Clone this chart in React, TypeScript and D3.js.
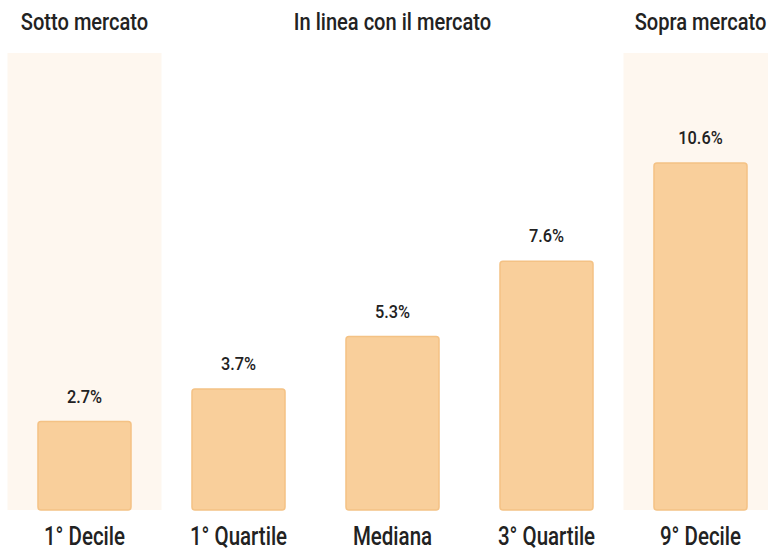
import React from "react";
import * as d3 from "d3";

const categories = ["1° Decile", "1° Quartile", "Mediana", "3° Quartile", "9° Decile"];
const values = [2.7, 3.7, 5.3, 7.6, 10.6];
const valueLabels = ["2.7%", "3.7%", "5.3%", "7.6%", "10.6%"];
const groupHeaders = [
  { label: "Sotto mercato", at: "1° Decile", shaded: true },
  { label: "In linea con il mercato", at: "Mediana", shaded: false },
  { label: "Sopra mercato", at: "9° Decile", shaded: true },
];

const W = 768;
const H = 551;

function SText(props: { x: number; y: number; size: number; sx: number; children: React.ReactNode }) {
  return (
    <text
      transform={`translate(${props.x},${props.y}) scale(${props.sx},1)`}
      textAnchor="middle"
      fontFamily="Roboto, 'Noto Sans', sans-serif"
      fontWeight={500}
      fontSize={props.size}
      fill="#222"
    >
      {props.children}
    </text>
  );
}

export default function App() {
  const x = d3
    .scaleBand<string>()
    .domain(categories)
    .range([7.5, 777.5])
    .paddingInner(0.396)
    .paddingOuter(0.198);
  const y = d3.scaleLinear().domain([0, 10.6]).range([510, 163]);
  const step = x.step();

  return (
    <div style={{ position: "absolute", left: 0, top: 0 }}>
      <svg width={W} height={H} style={{ display: "block" }}>
        <rect x={0} y={0} width={W} height={H} fill="#ffffff" />
        {groupHeaders.map((g) => {
          const cx = (x(g.at) as number) + x.bandwidth() / 2;
          return (
            <g key={g.label}>
              {g.shaded && (
                <rect
                  x={cx - step / 2}
                  y={53}
                  width={step}
                  height={y(0) - 53}
                  fill="#fef7ef"
                />
              )}
              <SText x={cx} y={30} size={24.5} sx={0.82}>
                {g.label}
              </SText>
            </g>
          );
        })}
        {categories.map((c, i) => {
          const bx = x(c) as number;
          const top = y(values[i]);
          const cx = bx + x.bandwidth() / 2;
          return (
            <g key={c}>
              <rect
                x={bx}
                y={top}
                width={x.bandwidth()}
                height={y(0) - top}
                rx={3}
                ry={3}
                fill="#f9cf9b"
                stroke="#f4c285"
                strokeWidth={1.5}
              />
              <SText x={cx} y={top - 19} size={19} sx={0.86}>
                {valueLabels[i]}
              </SText>
              <SText x={cx} y={544.5} size={25} sx={0.82}>
                {c}
              </SText>
            </g>
          );
        })}
      </svg>
    </div>
  );
}
